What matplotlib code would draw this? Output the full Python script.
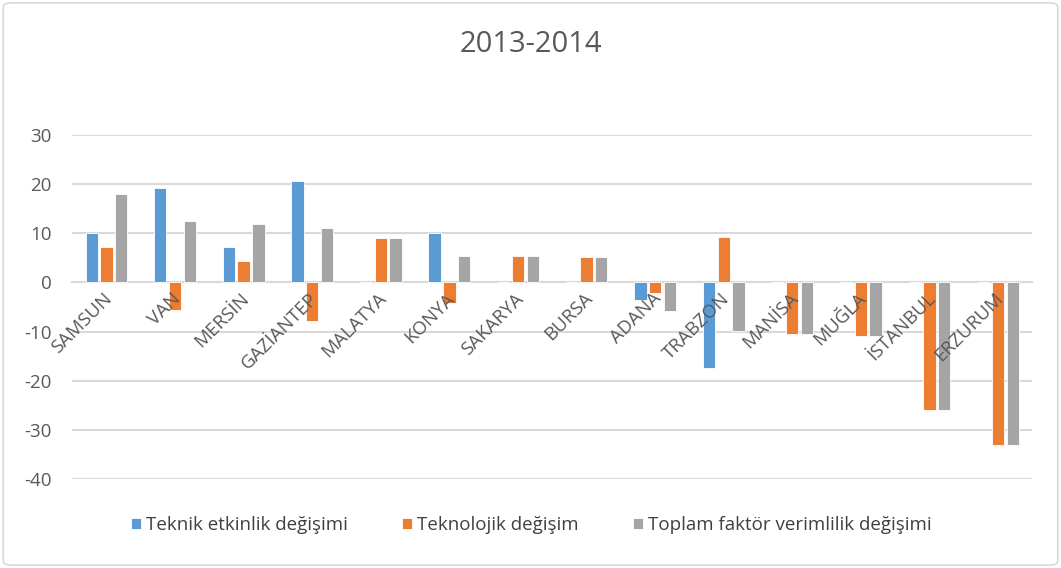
import numpy as np
import matplotlib.pyplot as plt
from matplotlib.patches import FancyBboxPatch

plt.rcParams['font.family'] = ['Open Sans', 'DejaVu Sans']
plt.rcParams['axes.unicode_minus'] = False

cities = ['SAMSUN', 'VAN', 'MERSİN', 'GAZİANTEP', 'MALATYA', 'KONYA', 'SAKARYA',
          'BURSA', 'ADANA', 'TRABZON', 'MANİSA', 'MUĞLA', 'İSTANBUL', 'ERZURUM']
teknik = [10.0, 19.3, 7.3, 20.7, 0, 10.1, 0, 0, -3.5, -17.5, 0, 0, 0, 0]
teknoloji = [7.3, -5.7, 4.4, -7.9, 9.0, -4.1, 5.3, 5.1, -2.2, 9.3, -10.5, -10.9, -26.0, -33.2]
toplam = [18.1, 12.5, 12.0, 11.1, 9.0, 5.3, 5.3, 5.1, -5.8, -9.8, -10.5, -10.9, -26.0, -33.2]

series = [('Teknik etkinlik değişimi', teknik, '#5B9BD5'),
          ('Teknolojik değişim', teknoloji, '#ED7D31'),
          ('Toplam faktör verimlilik değişimi', toplam, '#A5A5A5')]
yticks = list(range(-40, 31, 10))

fig = plt.figure(figsize=(10.61, 5.68), dpi=100)
ax = fig.add_axes([0.068, 0.157, 0.905, 0.605])

x = np.arange(len(cities))
w = 0.18
for k, (name, vals, col) in enumerate(series):
    ax.bar(x + (k - 1) * 0.215, vals, w, color=col, label=name,
           edgecolor='white', linewidth=0.6, zorder=2)

# gridlines behind the bars, tick labels in front of them
for t in yticks:
    ax.axhline(t, color='#D9D9D9', linewidth=1.5, zorder=1)
ax.set_axisbelow(False)

ax.set_ylim(-40, 30)
ax.set_xlim(-0.5, len(cities) - 0.5)
ax.set_yticks(yticks)
ax.tick_params(axis='y', length=0, labelsize=13.5, labelcolor='#595959', pad=15)

ax.spines['bottom'].set_position(('data', 0))
ax.spines['bottom'].set_color('#D9D9D9')
ax.spines['bottom'].set_linewidth(1.5)
ax.spines['bottom'].set_zorder(1)
for s in ['top', 'right', 'left']:
    ax.spines[s].set_visible(False)
ax.set_xticks(x - 0.05)
ax.set_xticklabels(cities, rotation=45, ha='right', va='top', rotation_mode='anchor',
                   fontsize=13.5, color='#595959')
ax.tick_params(axis='x', length=0, pad=5)

fig.text(0.5, 0.922, '2013-2014', ha='center', va='center', fontsize=21, color='#595959')

ax.legend(loc='center', bbox_to_anchor=(0.478, -0.135), ncol=3, frameon=False,
          fontsize=13.5, handlelength=0.55, handleheight=0.55, handletextpad=0.25,
          columnspacing=2.9, labelcolor='#404040')

fig.patches.append(FancyBboxPatch((0.003, 0.005), 0.994, 0.99, boxstyle='round,pad=0,rounding_size=0.008',
                                  transform=fig.transFigure, fill=False, edgecolor='#D9D9D9', linewidth=1.2))

fig.savefig('out.png', dpi=100)
